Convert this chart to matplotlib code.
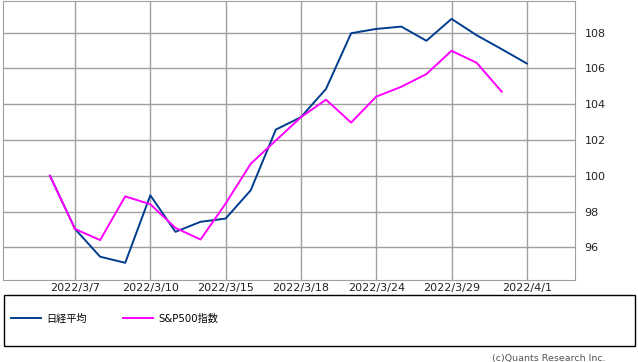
import matplotlib
matplotlib.use('Agg')
import matplotlib.pyplot as plt
from matplotlib.patches import Rectangle

plt.rcParams['font.family'] = ['DejaVu Sans', 'Noto Sans CJK JP']

# trading days (index positions on the x axis)
dates = ['2022/3/4', '2022/3/7', '2022/3/8', '2022/3/9', '2022/3/10', '2022/3/11',
         '2022/3/14', '2022/3/15', '2022/3/16', '2022/3/17', '2022/3/18', '2022/3/22',
         '2022/3/23', '2022/3/24', '2022/3/25', '2022/3/28', '2022/3/29', '2022/3/30',
         '2022/3/31', '2022/4/1']
tick_labels = ['2022/3/7', '2022/3/10', '2022/3/15', '2022/3/18', '2022/3/24', '2022/3/29', '2022/4/1']

nikkei = [100.0, 97.03, 95.48, 95.14, 98.91, 96.87, 97.43, 97.61, 99.19, 102.58, 103.27,
          104.85, 107.96, 108.20, 108.33, 107.54, 108.76, 107.85, 107.07, 106.27]
sp500 = [100.0, 97.03, 96.41, 98.85, 98.41, 97.09, 96.44, 98.45, 100.67, 101.97, 103.27,
         104.25, 102.97, 104.42, 104.97, 105.68, 106.98, 106.31, 104.70]

fig = plt.figure(figsize=(6.38, 3.62), dpi=100)
ax = fig.add_axes([3 / 638, 1 - 280 / 362, 572 / 638, 279 / 362])

ax.plot(range(len(nikkei)), nikkei, color='#003d8f', lw=1.4, label='日経平均')
ax.plot(range(len(sp500)), sp500, color='#ff00ff', lw=1.4, label='S&P500指数')

ax.set_xlim(-1.87, 20.92)
ax.set_ylim(94.18, 109.76)
ax.set_xticks([dates.index(t) for t in tick_labels])
ax.set_xticklabels(tick_labels)
ax.set_yticks([96, 98, 100, 102, 104, 106, 108])
ax.yaxis.tick_right()
ax.tick_params(axis='x', length=0, pad=2, labelsize=8, colors='#222222')
ax.tick_params(axis='y', length=0, pad=7, labelsize=8, colors='#222222')
ax.grid(True, color='#a0a0a0', lw=1)
ax.set_axisbelow(True)
for s in ax.spines.values():
    s.set_color('#a0a0a0')

# legend box
fig.patches.append(Rectangle((3.5 / 638, 1 - 346 / 362), 631 / 638, 51 / 362,
                             transform=fig.transFigure, fill=False, edgecolor='black', lw=1))
h, l = ax.get_legend_handles_labels()
fig.legend(h, l, loc='center left', bbox_to_anchor=(11 / 638, 1 - 318.5 / 362), ncol=2,
           frameon=False, fontsize=7.3, borderpad=0, borderaxespad=0,
           handlelength=3.0, columnspacing=3.55, handletextpad=0.5)

fig.text(606 / 638, 1 - 358 / 362, '(c)Quants Research Inc.', ha='right', va='center',
         fontsize=6.8, color='#555555')

fig.savefig('out.png', dpi=100)
